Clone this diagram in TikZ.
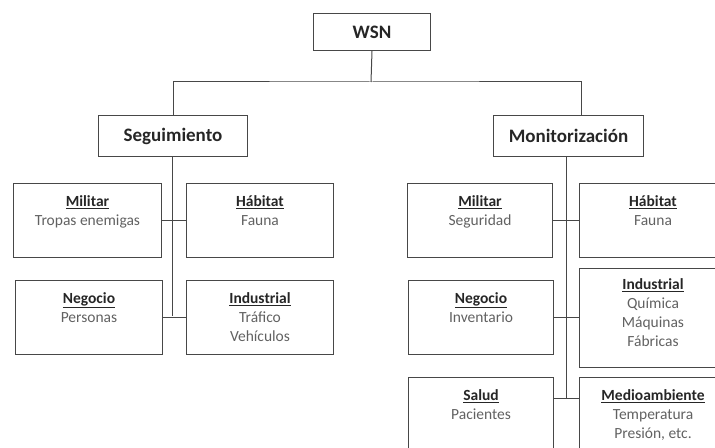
\documentclass[tikz,border=0pt]{standalone}
\usepackage{fontspec}
\setmainfont{Carlito}
\begin{document}
\begin{tikzpicture}[x=1bp,y=-1bp,
  frame/.style={draw=black!72, line width=1bp},
  topbox/.style={frame, inner sep=0, font=\fontsize{19bp}{23bp}\selectfont\bfseries, text=black!85},
  cell/.style={frame, inner sep=0, anchor=north west, minimum width=147bp, minimum height=74bp},
  txt/.style={anchor=north, align=center, inner sep=0, text=black!62,
    font=\fontsize{15.5bp}{19bp}\selectfont},
  link/.style={draw=black!72, line width=1bp}]
\newcommand{\head}[1]{\rule{0pt}{13bp}\textcolor{black!85}{\underline{\textbf{#1}}}}
\useasboundingbox (0,0) rectangle (715,448);
\clip (0,0) rectangle (715,448);

% top levels
\node[topbox, minimum width=117bp, minimum height=37bp, anchor=north west] (wsn) at (313,13) {WSN};
\node[topbox, minimum width=149bp, minimum height=41bp, anchor=north west] (seg) at (98,115) {Seguimiento};
\node[topbox, minimum width=150bp, minimum height=41bp, anchor=north west] (mon) at (493,115) {Monitorización};
\coordinate (bus) at (371,82);
\coordinate (monin) at (581,115);
\draw[link] (wsn.south) -- (bus);
\draw[link] (seg.north) |- (bus) -| (monin);

% Seguimiento branch
\node[cell, minimum width=148bp] (s1) at (13,183) {};
\node[cell] (s2) at (186,183) {};
\node[cell] (s3) at (15,280) {};
\node[cell] (s4) at (186,280) {};
\node[txt] (s1t) at ([yshift=-10bp]s1.north) {\head{Militar}\\Tropas enemigas};
\node[txt] (s2t) at ([yshift=-10bp]s2.north) {\head{Hábitat}\\Fauna};
\node[txt] (s3t) at ([yshift=-10bp]s3.north) {\head{Negocio}\\Personas};
\node[txt] (s4t) at ([yshift=-10bp]s4.north) {\head{Industrial}\\Tráfico\\Vehículos};
\coordinate (segend) at (172.5,316);
\draw[link] (seg.south -| segend) -- (segend);
\draw[link] (s1.east) -- (s2.west);
\draw[link] (s3.east) -- (s4.west);

% Monitorización branch
\node[cell, minimum width=145bp] (m1) at (407,183) {};
\node[cell] (m2) at (579,183) {};
\node[cell, minimum width=145bp] (m3) at (408,280) {};
\node[cell, minimum height=99bp] (m4) at (579,268) {};
\node[cell, minimum width=145bp] (m5) at (408,377) {};
\node[cell] (m6) at (579,377) {};
\node[txt] (m1t) at ([yshift=-10bp]m1.north) {\head{Militar}\\Seguridad};
\node[txt] (m2t) at ([yshift=-10bp]m2.north) {\head{Hábitat}\\Fauna};
\node[txt] (m3t) at ([yshift=-10bp]m3.north) {\head{Negocio}\\Inventario};
\node[txt] (m4t) at ([yshift=-8bp]m4.north) {\head{Industrial}\\Química\\Máquinas\\Fábricas};
\node[txt] (m5t) at ([yshift=-10bp]m5.north) {\head{Salud}\\Pacientes};
\node[txt] (m6t) at ([yshift=-10bp]m6.north) {\head{Medioambiente}\\Temperatura\\Presión, etc.};
\coordinate (monend) at (566,398);
\draw[link] (mon.south -| monend) -- (monend);
\draw[link] (m1.east) -- (m2.west);
\draw[link] (m3.east) -- (m3.east -| m4.west);
\draw[link] (m5.east |- monend) -- (m6.west |- monend);
\end{tikzpicture}
\end{document}
